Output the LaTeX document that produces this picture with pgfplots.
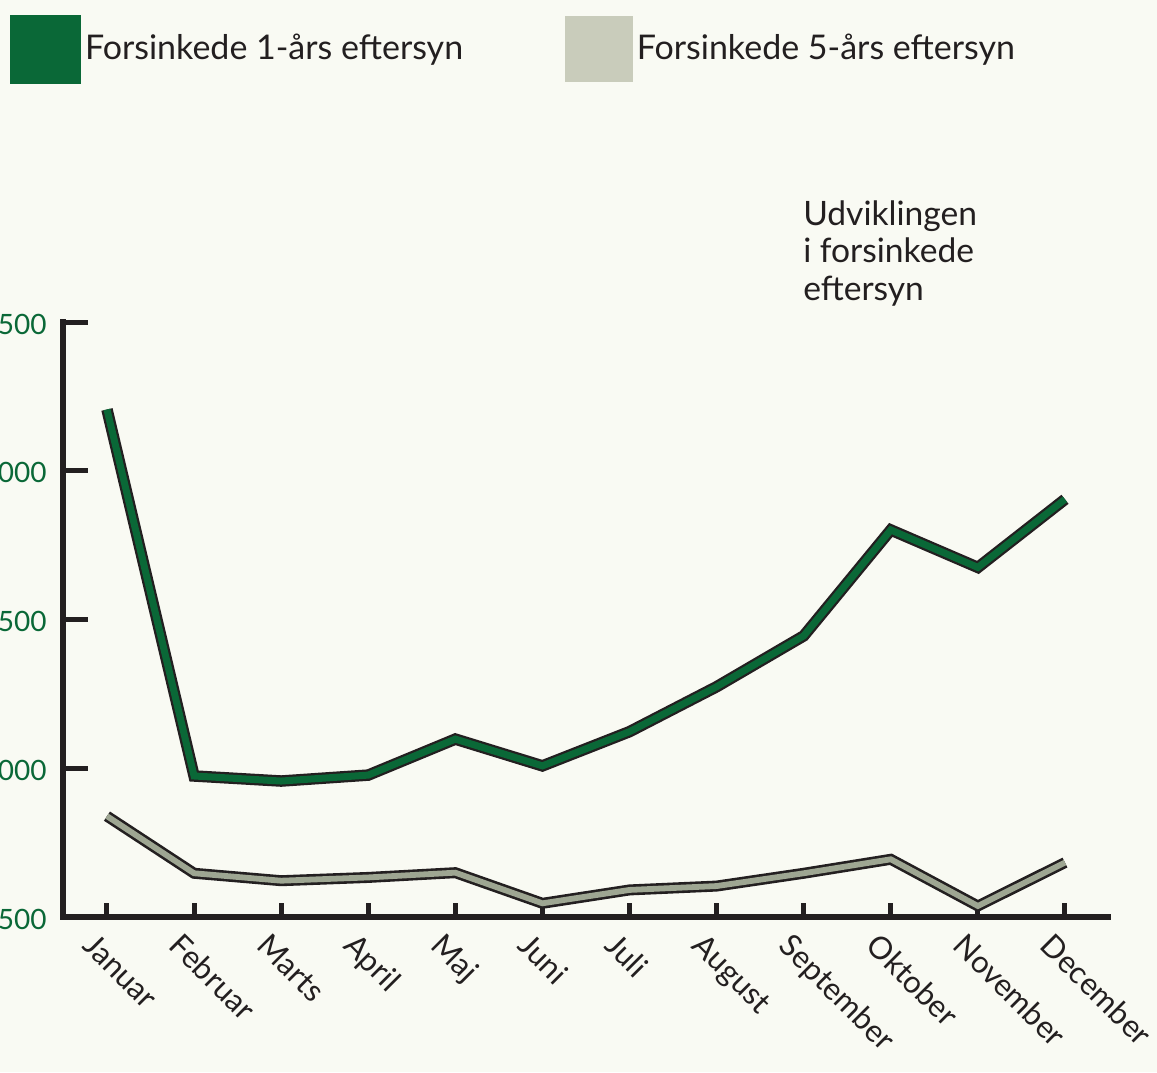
\documentclass[border=0pt]{standalone}
\usepackage{pgfplots}
\pgfplotsset{compat=1.18}
\usepackage{fontspec}
\setmainfont{Lato}
\definecolor{bg}{HTML}{F9FAF3}
\definecolor{dgreen}{HTML}{0A6837}
\definecolor{lgray}{HTML}{C9CCBB}
\definecolor{lgline}{HTML}{9EA692}
\definecolor{ink}{HTML}{231F20}
\pgfplotstableread{
x g f
0 3206 1839
1 1974 1647
2 1957 1622
3 1977 1633
4 2098 1649
5 2008 1546
6 2123 1591
7 2274 1604
8 2445 1647
9 2801 1694
10 2675 1537
11 2904 1683
}\datatable
\begin{document}
\begin{tikzpicture}
\fill[bg] (-31.5pt,-77.5pt) rectangle (547pt,458.5pt);
\begin{axis}[
  at={(0,0)}, anchor=south west,
  scale only axis, width=522.5pt, height=297.5pt,
  xmin=-0.505, xmax=11.494, ymin=1500, ymax=3500,
  clip=false,
  axis lines*=left,
  axis line style={ink, line width=3pt, line cap=rect, -},
  xtick={0,...,11},
  xticklabels={Januar,Februar,Marts,April,Maj,Juni,Juli,August,September,Oktober,November,December},
  ytick={1500,2000,2500,3000,3500},
  tick align=inside,
  major tick length=12.5pt,
  tick style={ink, line width=2.5pt, line cap=butt},
  xtick style={/pgfplots/major tick length=7pt},
  /pgf/number format/1000 sep={},
  /pgf/number format/assume math mode=true,
  yticklabel style={text=dgreen, font=\fontsize{14}{16}\selectfont, anchor=east, inner sep=0pt, xshift=-8pt, yshift=-1pt},
  xticklabel style={text=ink, font=\fontsize{15.5}{18}\selectfont, xshift=-5pt, yshift=-7pt, rotate=-45, anchor=north west, inner sep=0pt},
  legend style={at={(-0.0507,1.516)}, anchor=north west, draw=none, fill=none,
    inner sep=0pt, outer sep=0pt, column sep=0pt,
    font=\fontsize{17}{20}\selectfont, text=ink, nodes={inner sep=0pt}},
  legend columns=2,
  legend cell align=left,
]
\addplot[ink, line width=5.75pt, line join=miter, line cap=butt, forget plot] table[x=x,y=g]{\datatable};
\addplot[dgreen, line width=3.5pt, line join=miter, line cap=butt,
  legend image code/.code={\fill[dgreen] (0pt,-16pt) rectangle (32pt,15pt);}] table[x=x,y=g]{\datatable};
\addlegendentry{\hspace*{2pt}\makebox[240pt][l]{Forsinkede 1-års eftersyn}}
\addplot[ink, line width=5.5pt, line join=miter, line cap=butt, forget plot] table[x=x,y=f]{\datatable};
\addplot[lgline, line width=2.9pt, line join=miter, line cap=butt,
  legend image code/.code={\fill[lgray] (0pt,-15.5pt) rectangle (31pt,15pt);}] table[x=x,y=f]{\datatable};
\addlegendentry{\hspace*{2pt}Forsinkede 5-års eftersyn}
\node[anchor=north west, align=left, inner sep=0pt, text=ink, font=\fontsize{16.8}{18.75}\selectfont]
  at (rel axis cs:0.708,1.205) {Udviklingen\\i forsinkede\\eftersyn};
\end{axis}
\pgfresetboundingbox
\useasboundingbox (-31.5pt,-77.5pt) rectangle (547pt,458.5pt);
\end{tikzpicture}
\end{document}
